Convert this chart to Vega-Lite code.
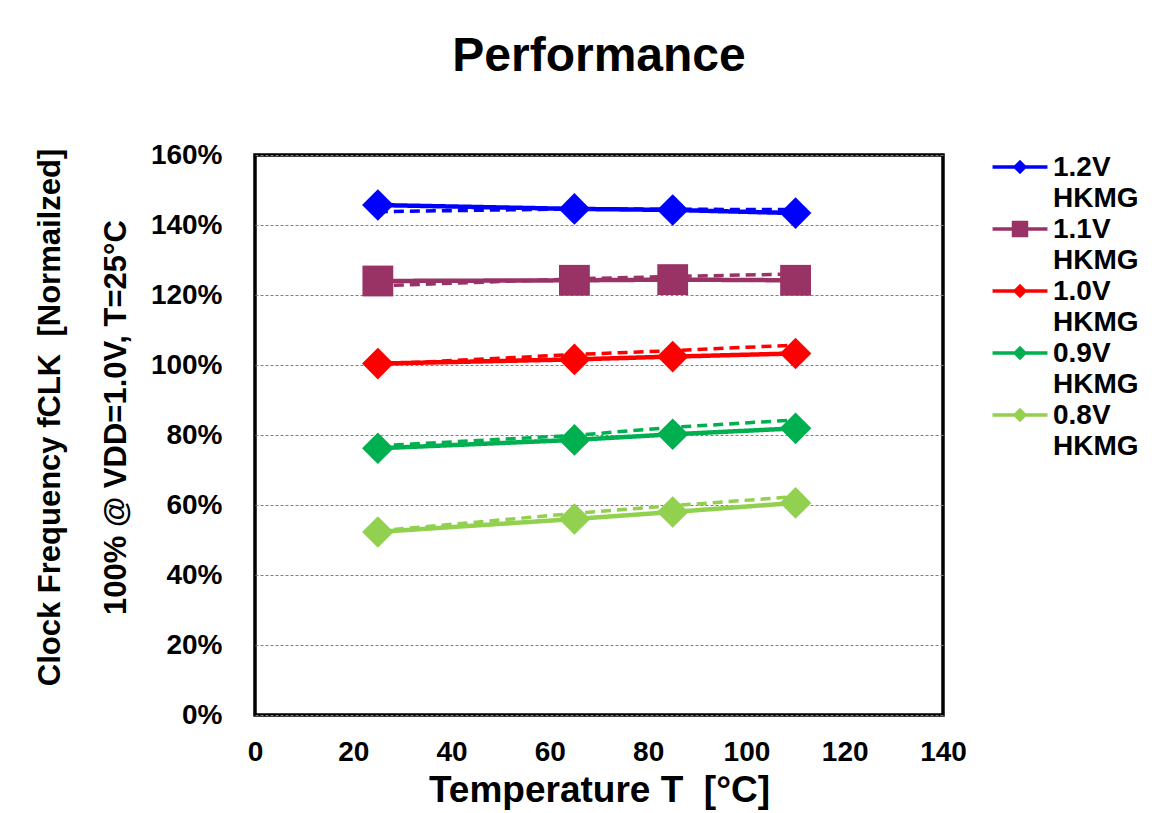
{
  "$schema": "https://vega.github.io/schema/vega-lite/v6.json",
  "autosize": "none",
  "width": 688,
  "height": 560,
  "padding": {"left": 255, "top": 155, "right": 223, "bottom": 98},
  "background": "white",
  "title": {"text": "Performance", "fontSize": 48, "font": "Liberation Sans", "fontWeight": "bold", "color": "black", "anchor": "middle", "offset": 60},
  "config": {
    "view": {"stroke": "black", "strokeWidth": 3.5},
    "font": "Liberation Sans"
  },
  "data": {"values": [
    {"T": 25, "f": 145.7, "series": "1.2V HKMG", "type": "solid"},
    {"T": 65, "f": 144.6, "series": "1.2V HKMG", "type": "solid"},
    {"T": 85, "f": 144.3, "series": "1.2V HKMG", "type": "solid"},
    {"T": 110, "f": 143.4, "series": "1.2V HKMG", "type": "solid"},
    {"T": 25, "f": 143.8, "series": "1.2V HKMG", "type": "dashed"},
    {"T": 65, "f": 144.6, "series": "1.2V HKMG", "type": "dashed"},
    {"T": 85, "f": 144.5, "series": "1.2V HKMG", "type": "dashed"},
    {"T": 110, "f": 144.4, "series": "1.2V HKMG", "type": "dashed"},
    {"T": 25, "f": 124.0, "series": "1.1V HKMG", "type": "solid"},
    {"T": 65, "f": 124.2, "series": "1.1V HKMG", "type": "solid"},
    {"T": 85, "f": 124.4, "series": "1.1V HKMG", "type": "solid"},
    {"T": 110, "f": 124.2, "series": "1.1V HKMG", "type": "solid"},
    {"T": 25, "f": 122.6, "series": "1.1V HKMG", "type": "dashed"},
    {"T": 65, "f": 124.6, "series": "1.1V HKMG", "type": "dashed"},
    {"T": 85, "f": 125.3, "series": "1.1V HKMG", "type": "dashed"},
    {"T": 110, "f": 126.0, "series": "1.1V HKMG", "type": "dashed"},
    {"T": 25, "f": 100.4, "series": "1.0V HKMG", "type": "solid"},
    {"T": 65, "f": 101.6, "series": "1.0V HKMG", "type": "solid"},
    {"T": 85, "f": 102.4, "series": "1.0V HKMG", "type": "solid"},
    {"T": 110, "f": 103.3, "series": "1.0V HKMG", "type": "solid"},
    {"T": 25, "f": 100.2, "series": "1.0V HKMG", "type": "dashed"},
    {"T": 65, "f": 103.0, "series": "1.0V HKMG", "type": "dashed"},
    {"T": 85, "f": 104.1, "series": "1.0V HKMG", "type": "dashed"},
    {"T": 110, "f": 105.7, "series": "1.0V HKMG", "type": "dashed"},
    {"T": 25, "f": 76.2, "series": "0.9V HKMG", "type": "solid"},
    {"T": 65, "f": 78.6, "series": "0.9V HKMG", "type": "solid"},
    {"T": 85, "f": 80.2, "series": "0.9V HKMG", "type": "solid"},
    {"T": 110, "f": 81.9, "series": "0.9V HKMG", "type": "solid"},
    {"T": 25, "f": 76.9, "series": "0.9V HKMG", "type": "dashed"},
    {"T": 65, "f": 79.9, "series": "0.9V HKMG", "type": "dashed"},
    {"T": 85, "f": 82.2, "series": "0.9V HKMG", "type": "dashed"},
    {"T": 110, "f": 84.3, "series": "0.9V HKMG", "type": "dashed"},
    {"T": 25, "f": 52.3, "series": "0.8V HKMG", "type": "solid"},
    {"T": 65, "f": 56.0, "series": "0.8V HKMG", "type": "solid"},
    {"T": 85, "f": 58.0, "series": "0.8V HKMG", "type": "solid"},
    {"T": 110, "f": 60.6, "series": "0.8V HKMG", "type": "solid"},
    {"T": 25, "f": 52.6, "series": "0.8V HKMG", "type": "dashed"},
    {"T": 65, "f": 57.6, "series": "0.8V HKMG", "type": "dashed"},
    {"T": 85, "f": 59.8, "series": "0.8V HKMG", "type": "dashed"},
    {"T": 110, "f": 62.4, "series": "0.8V HKMG", "type": "dashed"}
  ]},
  "encoding": {
    "x": {
      "field": "T", "type": "quantitative",
      "scale": {"domain": [0, 140], "nice": false},
      "axis": {
        "values": [0, 20, 40, 60, 80, 100, 120, 140],
        "title": "Temperature T\u00a0 [°C]",
        "titleFontSize": 37, "titleFont": "Liberation Sans", "titleFontWeight": "bold", "titleColor": "black",
        "titlePadding": 6,
        "labelFontSize": 28, "labelFont": "Liberation Sans", "labelFontWeight": "bold", "labelColor": "black",
        "labelPadding": 23, "ticks": false, "domain": false, "grid": false, "labelFlush": false
      }
    },
    "y": {
      "field": "f", "type": "quantitative",
      "scale": {"domain": [0, 160], "nice": false},
      "axis": {
        "values": [0, 20, 40, 60, 80, 100, 120, 140, 160],
        "labelExpr": "datum.value + '%'",
        "title": ["Clock Frequency fCLK\u00a0 [Normailzed]", "100% @ VDD=1.0V, T=25°C"],
        "titleFontSize": 31, "titleFont": "Liberation Sans", "titleFontWeight": "bold", "titleColor": "black",
        "titleLineHeight": 66, "titlePadding": 18, "titleY": 262,
        "labelFontSize": 28, "labelFont": "Liberation Sans", "labelFontWeight": "bold", "labelColor": "black",
        "labelPadding": 33, "ticks": false, "domain": false,
        "grid": true, "gridColor": "#808080", "gridDash": [3, 2], "gridWidth": 1
      }
    }
  },
  "layer": [
    {
      "mark": {"type": "line"},
      "encoding": {
        "color": {
          "field": "series", "type": "nominal",
          "scale": {"domain": ["1.2V HKMG", "1.1V HKMG", "1.0V HKMG", "0.9V HKMG", "0.8V HKMG"], "range": ["#0000FF", "#993366", "#FF0000", "#00B050", "#92D050"]},
          "legend": {
            "orient": "none", "legendX": 750, "legendY": -3,
            "title": null, "padding": 0,
            "symbolSize": 900, "labelOffset": 18,
            "labelFontSize": 28, "labelFont": "Liberation Sans", "labelFontWeight": "bold", "labelColor": "black",
            "labelBaseline": "top", "labelLimit": 300, "rowPadding": 1,
            "labelExpr": "split(datum.label, ' ')",
            "encode": {
              "symbols": {"update": {
                "shape": {"signal": "datum.value === '1.1V HKMG' ? 'M-1.83,-0.11L1.83,-0.11L1.83,0.11L-1.83,0.11Z M-0.55,-0.55L0.55,-0.55L0.55,0.55L-0.55,0.55Z' : 'M-1.83,-0.11L1.83,-0.11L1.83,0.11L-1.83,0.11Z M-0.48,0L0,-0.48L0.48,0L0,0.48Z'"},
                "fill": {"signal": "scale('color', datum.value)"},
                "fillOpacity": {"value": 1},
                "strokeWidth": {"value": 0}
              }},
              "labels": {"update": {"lineHeight": {"value": 31}, "dy": {"value": -13}}}
            }
          }
        },
        "strokeDash": {"field": "type", "type": "nominal", "scale": {"domain": ["solid", "dashed"], "range": [[1, 0], [10, 6]]}, "legend": null},
        "strokeWidth": {"field": "type", "type": "nominal", "scale": {"domain": ["solid", "dashed"], "range": [4.5, 3.5]}, "legend": null},
        "detail": {"field": "type"}
      }
    },
    {
      "transform": [{"filter": "datum.type === 'solid' && datum.series !== '1.1V HKMG'"}],
      "mark": {"type": "point", "filled": true, "opacity": 1, "size": 1000, "strokeWidth": 0, "shape": "diamond"},
      "encoding": {
        "color": {"field": "series", "type": "nominal"}
      }
    },
    {
      "transform": [{"filter": "datum.type === 'solid' && datum.series === '1.1V HKMG'"}],
      "mark": {"type": "point", "filled": true, "opacity": 1, "size": 950, "strokeWidth": 0, "shape": "square"},
      "encoding": {
        "color": {"field": "series", "type": "nominal"}
      }
    }
  ]
}
